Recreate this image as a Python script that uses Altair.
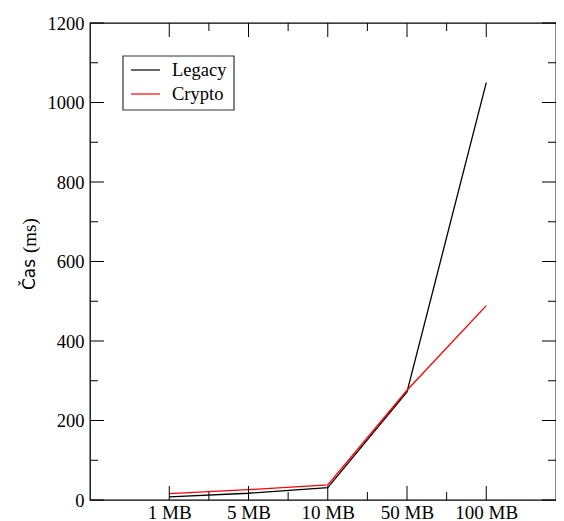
import json
import altair as alt
import pandas as pd

# ---- data ----
sizes = ["1 MB", "5 MB", "10 MB", "50 MB", "100 MB"]
series = ["Legacy", "Crypto"]
legacy_ms = [8, 17, 31, 272, 1050]
crypto_ms = [16, 26, 38, 276, 489]
y_major = [0, 200, 400, 600, 800, 1000, 1200]
y_minor = [100, 300, 500, 700, 900, 1100]

colors = ["#000000", "#ff0000"]
W, H = 466, 477
SERIF = "Liberation Serif"

idx = list(range(1, len(sizes) + 1))
df_leg = pd.DataFrame({"idx": idx, "ms": legacy_ms, "size": sizes})
df_cry = pd.DataFrame({"idx": idx, "ms": crypto_ms, "size": sizes})
df_xmaj = pd.DataFrame({"idx": idx})
df_xmin = pd.DataFrame({"idx": [i + 0.5 for i in idx[:-1]]})
df_ymaj = pd.DataFrame({"v": y_major})
df_ymin = pd.DataFrame({"v": y_minor})
one = pd.DataFrame({"a": [0]})

xs = alt.Scale(domain=[0, 5.88], nice=False, zero=False)
ys = alt.Scale(domain=[0, 1200], nice=False, zero=False)

label_expr = json.dumps([""] + sizes) + "[datum.value]"

x_axis = alt.Axis(values=idx, labelExpr=label_expr, ticks=False, tickSize=0, domain=False,
                  grid=False, labelFont=SERIF, labelFontSize=19, labelColor="black",
                  labelPadding=3, labelFlush=False, labelOverlap=False, title="")
y_axis = alt.Axis(values=y_major, format="d", ticks=False, tickSize=0, domain=False,
                  grid=False, labelFont=SERIF, labelFontSize=18.5, labelColor="black",
                  labelPadding=6, labelFlush=False, labelOverlap=False, title="")

def X(field):
    return alt.X(field, scale=xs, axis=x_axis)

def Y(field):
    return alt.Y(field, scale=ys, axis=y_axis)

base_leg = alt.Chart(df_leg).mark_line(color=colors[0], strokeWidth=1.3).encode(
    x=X("idx:Q"), y=Y("ms:Q"))
base_cry = alt.Chart(df_cry).mark_line(color=colors[1], strokeWidth=1.4).encode(
    x=X("idx:Q"), y=Y("ms:Q"))

def xticks(df, length):
    bot = alt.Chart(df).mark_rule(color="black", strokeWidth=1).encode(
        x=X("idx:Q"), y=alt.value(H), y2=alt.value(H - length))
    top = alt.Chart(df).mark_rule(color="black", strokeWidth=1).encode(
        x=X("idx:Q"), y=alt.value(0), y2=alt.value(length))
    return [bot, top]

def yticks(df, length):
    left = alt.Chart(df).mark_rule(color="black", strokeWidth=1).encode(
        y=Y("v:Q"), x=alt.value(0), x2=alt.value(length))
    right = alt.Chart(df).mark_rule(color="black", strokeWidth=1).encode(
        y=Y("v:Q"), x=alt.value(W), x2=alt.value(W - length))
    return [left, right]

ticks = xticks(df_xmaj, 14) + xticks(df_xmin, 8) + yticks(df_ymaj, 14) + yticks(df_ymin, 8)

# legend box
legend_box = alt.Chart(one).mark_rect(fill="white", stroke="#333333", strokeWidth=1.2).encode(
    x=alt.value(33), x2=alt.value(144), y=alt.value(33), y2=alt.value(87))
legend_layers = [legend_box]
for i, (name, col) in enumerate(zip(series, colors)):
    yy = 47 + 24 * i
    dfn = pd.DataFrame({"name": [name]})
    legend_layers.append(alt.Chart(dfn).mark_rule(color=col, strokeWidth=1.2).encode(
        x=alt.value(41), x2=alt.value(70), y=alt.value(yy)))
    legend_layers.append(alt.Chart(dfn).mark_text(
        font=SERIF, fontSize=18.5, color="black", align="left", baseline="middle").encode(
        text="name:N", x=alt.value(82), y=alt.value(yy)))

# y-axis title in two fonts
title_layers = [
    alt.Chart(pd.DataFrame({"t": ["Čas"]})).mark_text(
        font="DejaVu Sans", fontSize=17, angle=270, align="left", baseline="middle",
        color="black").encode(text="t:N", x=alt.value(-60), y=alt.value(267)),
    alt.Chart(pd.DataFrame({"t": ["(ms)"]})).mark_text(
        font=SERIF, fontSize=19, angle=270, align="left", baseline="middle",
        color="black").encode(text="t:N", x=alt.value(-60), y=alt.value(230)),
]

chart = alt.layer(
    base_leg, base_cry, *ticks, *legend_layers, *title_layers
).properties(
    width=W, height=H,
    autosize=alt.AutoSizeParams(type="none"),
    padding={"left": 82, "top": 15, "right": 0, "bottom": 21},
).configure(
    font=SERIF
).configure_view(
    stroke="black", strokeWidth=1.3
).configure_axis(
    labelFont=SERIF, labelColor="black"
)

chart.save("out.html", embed_options={"renderer": "svg", "actions": False})
